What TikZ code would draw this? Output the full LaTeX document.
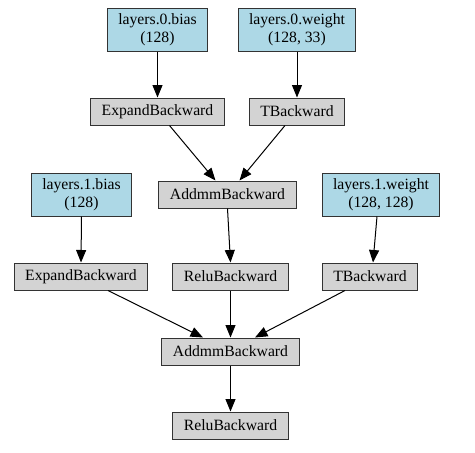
\documentclass[tikz,border=0pt]{standalone}
\usepackage{fontspec}
\setmainfont{Liberation Serif}
\usepackage{xcolor}
\usepackage{tikz}
\usetikzlibrary{arrows.meta}

\definecolor{paramblue}{HTML}{ADD8E6}
\definecolor{opgrey}{HTML}{D3D3D3}

\begin{document}
\begin{tikzpicture}[
    x=1pt, y=-1pt,
    box/.style={draw=black!80, line width=1pt, fill=opgrey, align=center,
                font=\fontsize{15.7}{18}\selectfont, inner xsep=11pt,
                inner ysep=0pt, minimum height=27pt},
    param/.style={box, fill=paramblue, minimum height=43pt},
    arrow/.style={-{Triangle[length=12.5pt, width=10pt]}, line width=1pt}
  ]
    \useasboundingbox (0,0) rectangle (475,453);

    % first layer
    \node[param] (bias0) at (157.5,29.5) {layers.0.bias\\(128)};
    \node[param] (weight0) at (297,29.5) {layers.0.weight\\(128, 33)};
    \node[box] (expand0) at (157.5,111.5) {ExpandBackward};
    \node[box] (t0) at (297,111.5) {TBackward};
    \node[box] (addmm0) at (227.5,194.5) {AddmmBackward};

    % second layer
    \node[param] (bias1) at (81.5,194.5) {layers.1.bias\\(128)};
    \node[param] (weight1) at (381,194.5) {layers.1.weight\\(128, 128)};
    \node[box] (expand1) at (81,276.5) {ExpandBackward};
    \node[box] (relu0) at (230.5,276.5) {ReluBackward};
    \node[box] (t1) at (370,276.5) {TBackward};
    \node[box] (addmm1) at (230.5,351.5) {AddmmBackward};
    \node[box] (relu1) at (230.5,425.5) {ReluBackward};

    \draw[arrow] (bias0) -- (expand0);
    \draw[arrow] (weight0) -- (t0);
    \draw[arrow] ([xshift=12pt]expand0.south) -- ([xshift=-12pt]addmm0.north);
    \draw[arrow] ([xshift=-12pt]t0.south) -- ([xshift=12pt]addmm0.north);

    \draw[arrow] (bias1.south) -- (expand1.north);
    \draw[arrow] (addmm0.south) -- (relu0.north);
    \draw[arrow] ([xshift=-4pt]weight1.south) -- ([xshift=3pt]t1.north);

    \draw[arrow] ([xshift=27pt]expand1.south) -- ([xshift=-27.5pt]addmm1.north);
    \draw[arrow] (relu0) -- (addmm1);
    \draw[arrow] ([xshift=-25pt]t1.south) -- ([xshift=24.5pt]addmm1.north);
    \draw[arrow] (addmm1) -- (relu1);
  \end{tikzpicture}
\end{document}
